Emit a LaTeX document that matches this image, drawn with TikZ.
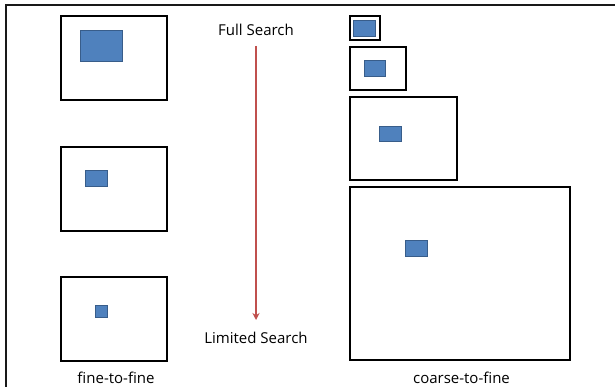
\documentclass[tikz,border=0pt]{standalone}
\usepackage{fontspec}
\setmainfont{Open Sans}
\usetikzlibrary{arrows.meta}
\definecolor{blueF}{HTML}{4F81BD}
\definecolor{blueD}{HTML}{385D8A}
\definecolor{redA}{HTML}{C0504D}
\begin{document}
\begin{tikzpicture}[x=1pt,y=-1pt,
  frame/.style={line width=2pt, draw=black!90},
  box/.style={draw=black, line width=2pt, inner sep=0pt, outer sep=0pt},
  tgt/.style={draw=blueD, fill=blueF, line width=1pt, inner sep=0pt, outer sep=0pt},
  lbl/.style={font=\fontsize{15}{17}\selectfont, inner sep=0pt},
  sarrow/.style={draw=redA, line width=1.5pt, -{Stealth[length=7pt,width=7pt]}}]
\useasboundingbox (0,0) rectangle (615,387);
\coordinate (ftl) at (6,5);
\coordinate (ftr) at (615,5);
\coordinate (fbl) at (6,387);
\draw[frame] (ftr) -- (ftl) -- (fbl);
% left column
\node[box, minimum width=106, minimum height=84] (l1) at (114,58) {};
\node[tgt, minimum width=42, minimum height=31] (l1t) at (101.5,46) {};
\node[box, minimum width=106, minimum height=84] (l2) at (114,189) {};
\node[tgt, minimum width=22, minimum height=16] (l2t) at (96.5,178.5) {};
\node[box, minimum width=106, minimum height=84] (l3) at (114,318.5) {};
\node[tgt, minimum width=12, minimum height=12] (l3t) at (101.5,311.5) {};
% right column
\node[box, minimum width=30, minimum height=24] (r1) at (365,28) {};
\node[tgt, minimum width=22, minimum height=16] (r1t) at (364.5,28.5) {};
\node[box, minimum width=56, minimum height=43] (r2) at (378,68.5) {};
\node[tgt, minimum width=21, minimum height=16] (r2t) at (375,68.5) {};
\node[box, minimum width=107, minimum height=83] (r3) at (403.5,138.5) {};
\node[tgt, minimum width=22, minimum height=15] (r3t) at (390.5,134) {};
\node[box, minimum width=220, minimum height=173] (r4) at (460,273.5) {};
\node[tgt, minimum width=22, minimum height=16] (r4t) at (416.5,248.5) {};
% labels
\node[lbl] (full) at (256,30) {Full Search};
\node[lbl] (lim) at (256,338) {Limited Search};
\node[lbl] (ftf) at (116,378) {fine-to-fine};
\node[lbl] (ctf) at (461.5,378) {coarse-to-fine};
\draw[sarrow, shorten <=16pt, shorten >=18pt] (full.center) -- (lim.center);
\end{tikzpicture}
\end{document}
